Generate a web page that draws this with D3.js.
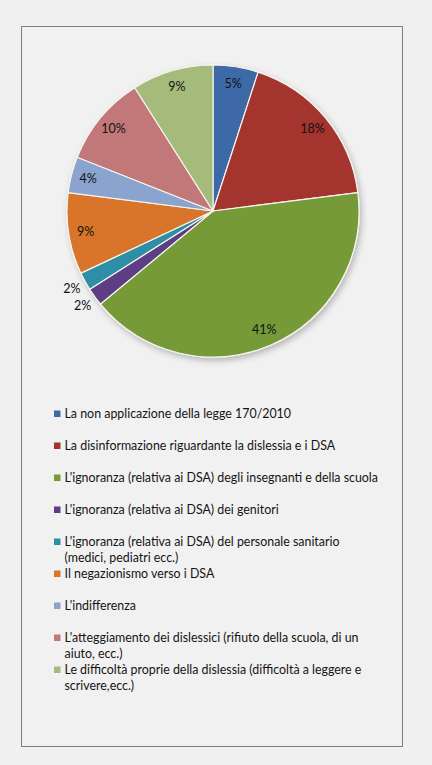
<!DOCTYPE html>
<html>
<head>
<meta charset="utf-8">
<script src="https://cdn.jsdelivr.net/npm/d3@7"></script>
<style>
  html, body { margin: 0; padding: 0; background: #f0f0f0; }
  svg { display: block; }
</style>
</head>
<body>
<svg id="chart" width="432" height="765"></svg>
<script>
const categories = [
  "La non applicazione della legge 170/2010",
  "La disinformazione riguardante la dislessia e i DSA",
  "L'ignoranza (relativa ai DSA) degli insegnanti e della scuola",
  "L'ignoranza (relativa ai DSA) dei genitori",
  "L'ignoranza (relativa ai DSA) del personale sanitario (medici, pediatri ecc.)",
  "Il negazionismo verso i DSA",
  "L'indifferenza",
  "L'atteggiamento dei dislessici (rifiuto della scuola, di un aiuto, ecc.)",
  "Le difficoltà proprie della dislessia (difficoltà a leggere e scrivere,ecc.)"
];
const legendLines = [
  ["La non applicazione della legge 170/2010"],
  ["La disinformazione riguardante la dislessia e i DSA"],
  ["L'ignoranza (relativa ai DSA) degli insegnanti e della scuola"],
  ["L'ignoranza (relativa ai DSA) dei genitori"],
  ["L'ignoranza (relativa ai DSA) del personale sanitario", "(medici, pediatri ecc.)"],
  ["Il negazionismo verso i DSA"],
  ["L'indifferenza"],
  ["L'atteggiamento dei dislessici (rifiuto della scuola, di un", "aiuto, ecc.)"],
  ["Le difficoltà proprie della dislessia (difficoltà a leggere e", "scrivere,ecc.)"]
];
const values = [5, 18, 41, 2, 2, 9, 4, 10, 9];
const colors = ["#3c6aa7", "#a4342f", "#779a37", "#5d3d83", "#2f8ea6", "#d8752b", "#8aa3cf", "#c27878", "#a5bb7b"];
const outside = [false, false, false, true, true, false, false, false, false];

const svg = d3.select("#chart");
const font = "Lato, 'Open Sans', sans-serif";

// frame
svg.append("rect")
  .attr("x", 21.5).attr("y", 26.5).attr("width", 381).attr("height", 720)
  .attr("fill", "#f1f1f1").attr("stroke", "#7f7f7f").attr("stroke-width", 1);

const defs = svg.append("defs");
const f = defs.append("filter").attr("id", "shadow").attr("x", "-20%").attr("y", "-20%").attr("width", "140%").attr("height", "140%");
f.append("feGaussianBlur").attr("in", "SourceAlpha").attr("stdDeviation", 3).attr("result", "b");
f.append("feOffset").attr("in", "b").attr("dx", 2).attr("dy", 3).attr("result", "o");
f.append("feComponentTransfer").attr("in", "o").attr("result", "s")
  .append("feFuncA").attr("type", "linear").attr("slope", 0.25);
const m = f.append("feMerge");
m.append("feMergeNode").attr("in", "s");
m.append("feMergeNode").attr("in", "SourceGraphic");

const cx = 213, cy = 211, R = 146;
const pie = d3.pie().sort(null).value(d => d);
const arcs = pie(values);
const arc = d3.arc().innerRadius(0).outerRadius(R);
const labelArcIn = d3.arc().innerRadius(129).outerRadius(129);
const labelArcOut = d3.arc().innerRadius(161).outerRadius(161);

const g = svg.append("g").attr("transform", `translate(${cx},${cy})`);
const slices = g.append("g").attr("filter", "url(#shadow)");
slices.selectAll("path").data(arcs).join("path")
  .attr("d", arc)
  .attr("fill", (d, i) => colors[i])
  .attr("stroke", "#f6f6ee")
  .attr("stroke-width", 1.2)
  .attr("stroke-linejoin", "round");

g.selectAll("text.lbl").data(arcs).join("text")
  .attr("class", "lbl")
  .attr("transform", (d, i) => `translate(${(outside[i] ? labelArcOut : labelArcIn).centroid(d)})`)
  .attr("text-anchor", "middle")
  .attr("dy", "0.35em")
  .attr("font-family", font)
  .attr("font-size", 12.5)
  .attr("fill", "#111")
  .text(d => d.data + "%");

// legend
const rowY = d3.scaleLinear().domain([0, 1]).range([414, 446]);
const leg = svg.append("g");
legendLines.forEach((lines, i) => {
  const y = rowY(i);
  leg.append("rect").attr("x", 54).attr("y", y - 3.5).attr("width", 6.5).attr("height", 6.5).attr("fill", colors[i]);
  const t = leg.append("text")
    .attr("x", 64.5).attr("y", y)
    .attr("font-family", font).attr("font-size", 12.4).attr("fill", "#141414");
  lines.forEach((ln, j) => {
    t.append("tspan").attr("x", 64.5).attr("dy", j === 0 ? "0.35em" : 16).text(ln);
  });
});
</script>
</body>
</html>
